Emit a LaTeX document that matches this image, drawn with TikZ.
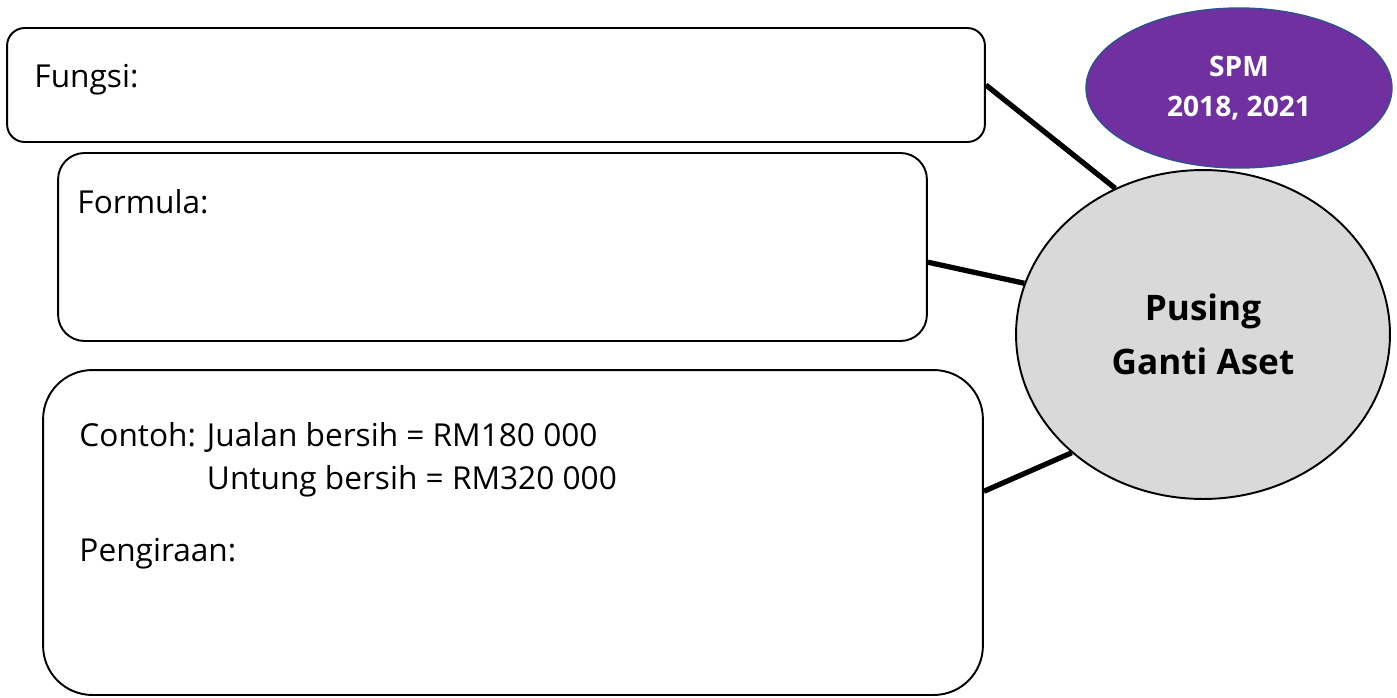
\documentclass[tikz,border=0pt]{standalone}
\usepackage{fontspec}
\setmainfont{Open Sans}
\usetikzlibrary{shapes.geometric,positioning,calc}
\definecolor{spmfill}{RGB}{112,48,160}
\definecolor{spmline}{RGB}{47,82,143}
\definecolor{hub}{RGB}{217,217,217}

\begin{document}
\begin{tikzpicture}[x=0.02cm,y=-0.02cm,font=\fontsize{18}{24.5}\selectfont]
\tikzset{bx/.style={draw,line width=1.1pt,rounded corners=#1,inner sep=0pt},
 lk/.style={line width=3pt},
 txt/.style={anchor=base west,inner sep=0pt}}
\useasboundingbox (0,0) rectangle (1397,697);
\node[bx=10pt,minimum width=19.56cm,minimum height=2.28cm] (fungsi) at (496,85) {};
\node[bx=15pt,minimum width=17.38cm,minimum height=3.76cm] (formula) at (492.5,247) {};
\node[bx=28pt,minimum width=18.8cm,minimum height=6.5cm] (contoh) at (513,532.5) {};
\node[ellipse,draw=spmline,line width=0.8pt,fill=spmfill,text=white,minimum width=6.12cm,minimum height=3.2cm,
 align=center,font=\bfseries\fontsize{16}{22.7}\selectfont] (spm) at (1239,88) {SPM\\2018, 2021};
\node[ellipse,draw,line width=1.1pt,fill=hub,minimum width=7.48cm,minimum height=6.58cm,
 align=center,font=\bfseries\fontsize{20}{31}\selectfont] (aset) at (1203,334.5) {Pusing\\Ganti Aset};
\node[txt] (tfungsi) at ($(fungsi.north west)+(28,60)$) {Fungsi:};
\node[txt] (tformula) at ($(formula.north west)+(20,61)$) {Formula:};
\node[txt] (tcontoh) at ($(contoh.north west)+(37,77)$)
 {\begin{tabular}[t]{@{}l@{ }l}Contoh: & Jualan bersih = RM180 000\\ & Untung bersih = RM320 000\end{tabular}};
\node[txt] (tkira) at ($(contoh.north west)+(37,192)$) {Pengiraan:};
\draw[lk] (fungsi.-0.6) -- (aset.121);
\draw[lk] (formula.-2.6) -- (aset.164);
\draw[lk] (contoh.5.2) -- (aset.222.5);
\end{tikzpicture}
\end{document}
